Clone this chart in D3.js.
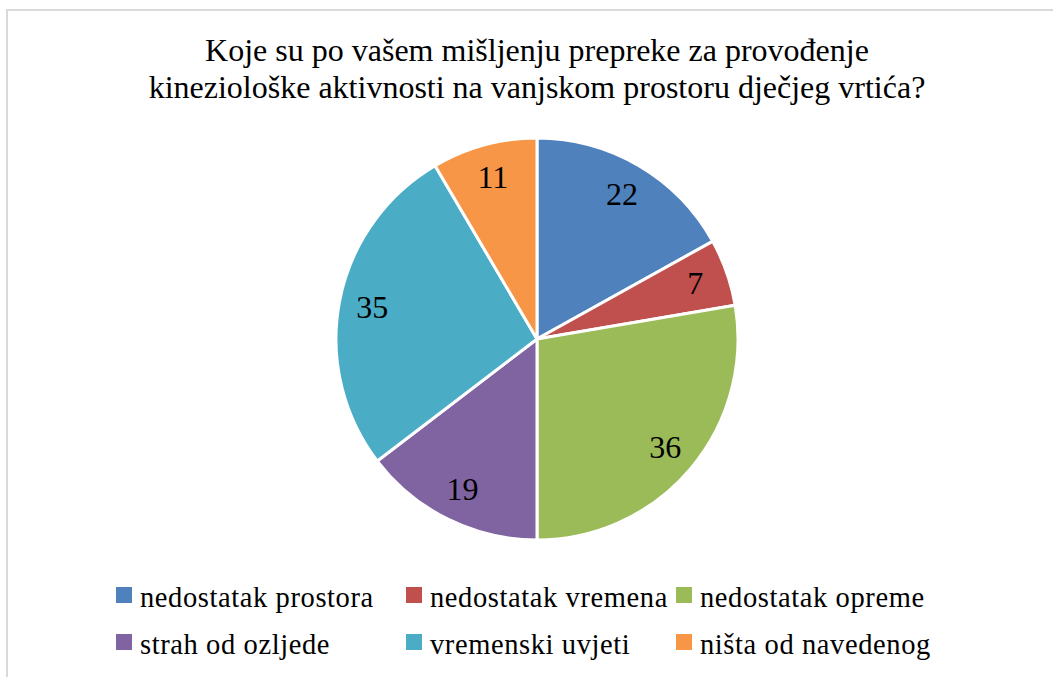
<!DOCTYPE html>
<html><head><meta charset="utf-8">
<script src="https://cdn.jsdelivr.net/npm/d3@7"></script>
<style>body{margin:0;background:#fff}svg{display:block}</style>
</head><body>
<svg id="c" width="1053" height="677"></svg>
<script>
const categories = ["nedostatak prostora","nedostatak vremena","nedostatak opreme","strah od ozljede","vremenski uvjeti","ništa od navedenog"];
const values = [22, 7, 36, 19, 35, 11];
const colors = ["#4f81bd","#c0504d","#9bbb59","#8064a2","#4bacc6","#f79646"];
const titleLines = ["Koje su po vašem mišljenju prepreke za provođenje","kineziološke aktivnosti na vanjskom prostoru dječjeg vrtića?"];

const svg = d3.select("#c");
const font = "Liberation Serif";

// border
svg.append("path").attr("d","M7,677 V10 H1053").attr("fill","none").attr("stroke","#d9d9d9").attr("stroke-width",2);

svg.selectAll("text.title").data(titleLines).enter().append("text")
  .attr("class","title")
  .attr("x",537).attr("y",(d,i)=>61+i*37).attr("text-anchor","middle")
  .attr("font-family",font).attr("font-size",32).attr("fill","#000").text(d=>d);

const cx=537, cy=339, R=201;
const pie = d3.pie().sort(null).value(d=>d)(values);
const arc = d3.arc().innerRadius(0).outerRadius(R);
const g = svg.append("g").attr("transform",`translate(${cx},${cy})`);
g.selectAll("path").data(pie).enter().append("path")
  .attr("d",arc).attr("fill",(d,i)=>colors[i]).attr("stroke","#fff").attr("stroke-width",3).attr("stroke-linejoin","round");
const labelArc = d3.arc().innerRadius(R*0.835).outerRadius(R*0.835);
g.selectAll("text").data(pie).enter().append("text")
  .attr("transform",d=>`translate(${labelArc.centroid(d)})`)
  .attr("text-anchor","middle").attr("dy","0.34em")
  .attr("font-family",font).attr("font-size",32).attr("fill","#000").text(d=>d.data);

// legend
const colX=[116,406,676], rowY=[595,642];
const lg = svg.append("g");
categories.forEach((c,i)=>{
  const x=colX[i%3], y=rowY[Math.floor(i/3)];
  lg.append("rect").attr("x",x).attr("y",y-8).attr("width",16).attr("height",16).attr("fill",colors[i]);
  lg.append("text").attr("x",x+24).attr("y",y+12)
    .attr("font-family",font).attr("font-size",28.5).attr("letter-spacing",0.6).attr("fill","#000").text(c);
});
</script>
</body></html>
